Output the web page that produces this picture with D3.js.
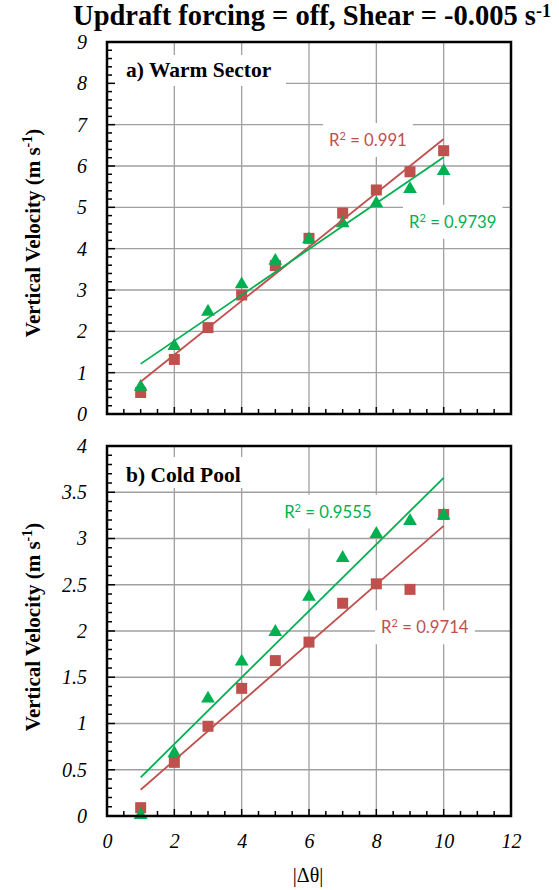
<!DOCTYPE html>
<html>
<head>
<meta charset="utf-8">
<script src="https://cdn.jsdelivr.net/npm/d3@7"></script>
<style>
  html, body { margin: 0; padding: 0; background: #fff; }
  svg { display: block; }
</style>
</head>
<body>
<svg id="chart" width="559" height="890"></svg>
<script>
// |Δθ| values shared by both panels
const deltaTheta = [1, 2, 3, 4, 5, 6, 7, 8, 9, 10];

// a) Warm Sector — vertical velocity (m s-1)
const warmSquare   = [0.52, 1.32, 2.09, 2.88, 3.59, 4.25, 4.86, 5.42, 5.86, 6.37];
const warmTriangle = [0.68, 1.67, 2.50, 3.16, 3.73, 4.25, 4.64, 5.12, 5.47, 5.90];

// b) Cold Pool — vertical velocity (m s-1)
const coldSquare   = [0.09, 0.58, 0.97, 1.38, 1.68, 1.88, 2.30, 2.51, 2.45, 3.26];
const coldTriangle = [0.02, 0.69, 1.28, 1.68, 2.00, 2.38, 2.80, 3.06, 3.20, 3.26];

// Axis tick values
const xTickValues    = [0, 2, 4, 6, 8, 10, 12];
const warmYTicks     = [0, 1, 2, 3, 4, 5, 6, 7, 8, 9];
const coldYTicks     = [0, 0.5, 1, 1.5, 2, 2.5, 3, 3.5, 4];

// Coefficient of determination labels for the linear trendlines
const warmR2 = { square: "0.991", triangle: "0.9739" };
const coldR2 = { square: "0.9714", triangle: "0.9555" };

const RED = "#C0504D";
const GREEN = "#00B050";
const GRID = "#a0a0a0";
const SERIF = "Liberation Serif, DejaVu Serif, serif";

const svg = d3.select("#chart");

const left = 107, right = 511;
const x = d3.scaleLinear().domain([0, 12]).range([left, right]);

// Least-squares line through (xs, ys)
function linearFit(xs, ys) {
  const mx = d3.mean(xs), my = d3.mean(ys);
  let sxy = 0, sxx = 0;
  xs.forEach((v, i) => { sxy += (v - mx) * (ys[i] - my); sxx += (v - mx) * (v - mx); });
  const slope = sxy / sxx;
  return { slope, intercept: my - slope * mx };
}

// Title
const title = svg.append("text")
  .attr("x", 312).attr("y", 25)
  .attr("text-anchor", "middle")
  .style("font-family", SERIF)
  .attr("font-weight", "bold")
  .attr("font-size", 28.5)
  .attr("fill", "#000");
title.append("tspan").text("Updraft forcing = off, Shear = -0.005 s");
title.append("tspan").attr("dy", -8).attr("font-size", 18).text("-1");

function drawPanel(opts) {
  const { top, bottom, yMax, yTicks, minorStep, squares, triangles,
          label, labelBox, r2, r2Pos, showXLabels, titleY } = opts;
  const y = d3.scaleLinear().domain([0, yMax]).range([bottom, top]);
  const g = svg.append("g");

  // Grid lines
  g.append("g").selectAll("line.h")
    .data(yTicks.filter(v => v > 0 && v < yMax))
    .join("line")
    .attr("x1", left).attr("x2", right)
    .attr("y1", d => y(d)).attr("y2", d => y(d))
    .attr("stroke", GRID).attr("stroke-width", 1.3);
  g.append("g").selectAll("line.v")
    .data(xTickValues.filter(v => v > 0 && v < 12))
    .join("line")
    .attr("x1", d => x(d)).attr("x2", d => x(d))
    .attr("y1", top).attr("y2", bottom)
    .attr("stroke", GRID).attr("stroke-width", 1.3);

  // Panel label on a white box
  g.append("rect")
    .attr("x", labelBox[0]).attr("y", labelBox[1])
    .attr("width", labelBox[2]).attr("height", labelBox[3])
    .attr("fill", "#fff");
  g.append("text")
    .attr("x", 126).attr("y", label.y)
    .style("font-family", SERIF)
    .attr("font-weight", "bold").attr("font-size", 21.5)
    .text(label.text);

  // Y axis: labels outside, ticks inside
  const yAxis = g.append("g").attr("transform", `translate(${left},0)`)
    .call(d3.axisLeft(y).tickValues(yTicks).tickSize(0).tickPadding(20)
      .tickFormat(d3.format("~g")));
  yAxis.select(".domain").remove();
  yAxis.selectAll("text")
    .style("font-family", SERIF)
    .attr("font-style", "italic").attr("font-size", 20).attr("fill", "#000");

  const minorY = d3.range(0, yMax + 1e-9, minorStep);
  g.append("g").selectAll("line")
    .data(minorY)
    .join("line")
    .attr("x1", left).attr("x2", d => left + (yTicks.some(t => Math.abs(t - d) < 1e-6) ? 8 : 5))
    .attr("y1", d => y(d)).attr("y2", d => y(d))
    .attr("stroke", "#000").attr("stroke-width", 1.5);

  // X axis ticks inside
  const minorX = d3.range(0, 12 + 1e-9, 0.5);
  g.append("g").selectAll("line")
    .data(minorX)
    .join("line")
    .attr("x1", d => x(d)).attr("x2", d => x(d))
    .attr("y1", bottom).attr("y2", d => bottom - (d % 2 === 0 ? 7 : 5))
    .attr("stroke", "#000").attr("stroke-width", 1.5);

  if (showXLabels) {
    const xAxis = g.append("g").attr("transform", `translate(0,${bottom})`)
      .call(d3.axisBottom(x).tickValues(xTickValues).tickSize(0).tickPadding(18));
    xAxis.select(".domain").remove();
    xAxis.selectAll("text")
      .style("font-family", SERIF)
      .attr("font-style", "italic").attr("font-size", 20).attr("fill", "#000");
  }

  // R² labels on white boxes
  const r2Font = "Lato, 'Open Sans', sans-serif";
  [["square", RED], ["triangle", GREEN]].forEach(([key, color]) => {
    const p = r2Pos[key];
    const cx = x(p[0]), cy = y(p[1]);
    const t = g.append("text")
      .attr("x", cx).attr("y", cy).attr("dy", "0.35em")
      .attr("text-anchor", "middle")
      .attr("font-family", r2Font).attr("font-size", 16.7)
      .attr("fill", color);
    t.append("tspan").text("R");
    t.append("tspan").attr("font-size", 11).attr("dy", -6).text("2");
    t.append("tspan").attr("dy", 6).text(" = " + r2[key]);
    const bb = t.node().getBBox();
    g.insert("rect", () => t.node())
      .attr("x", bb.x - 6).attr("y", cy - 17)
      .attr("width", bb.width + 12).attr("height", 34)
      .attr("fill", "#fff");
  });

  // Markers
  const pts = (vals) => deltaTheta.map((d, i) => [d, vals[i]]);
  g.append("g").selectAll("rect")
    .data(pts(squares))
    .join("rect")
    .attr("x", d => x(d[0]) - 5.5).attr("y", d => y(d[1]) - 5.5)
    .attr("width", 11).attr("height", 11)
    .attr("fill", RED);
  const tri = d3.symbol().type(d3.symbolTriangle).size(82);
  g.append("g").selectAll("path")
    .data(pts(triangles))
    .join("path")
    .attr("d", tri)
    .attr("transform", d => `translate(${x(d[0])},${y(d[1]) + 1})`)
    .attr("fill", GREEN);

  // Linear trendlines over the |Δθ| range
  [[squares, RED], [triangles, GREEN]].forEach(([vals, color]) => {
    const f = linearFit(deltaTheta, vals);
    const x0 = d3.min(deltaTheta), x1 = d3.max(deltaTheta);
    g.append("line")
      .attr("x1", x(x0)).attr("y1", y(f.intercept + f.slope * x0))
      .attr("x2", x(x1)).attr("y2", y(f.intercept + f.slope * x1))
      .attr("stroke", color).attr("stroke-width", 1.8);
  });

  // Frame
  g.append("rect")
    .attr("x", left).attr("y", top)
    .attr("width", right - left).attr("height", bottom - top)
    .attr("fill", "none").attr("stroke", "#000").attr("stroke-width", 2.5);

  // Y axis title
  const yt = svg.append("text")
    .attr("transform", `translate(40,${titleY}) rotate(-90)`)
    .attr("text-anchor", "middle")
    .style("font-family", SERIF)
    .attr("font-weight", "bold").attr("font-size", 21);
  yt.append("tspan").text("Vertical Velocity (m s");
  yt.append("tspan").attr("font-size", 14).attr("dy", -8).text("-1");
  yt.append("tspan").attr("dy", 8).text(")");
}

drawPanel({
  top: 42, bottom: 414, yMax: 9, yTicks: warmYTicks, minorStep: 0.2,
  squares: warmSquare, triangles: warmTriangle,
  label: { text: "a) Warm Sector", y: 77 },
  labelBox: [108, 55, 178, 31],
  r2: warmR2,
  r2Pos: { square: [7.75, 6.63], triangle: [10.27, 4.65] },
  showXLabels: false,
  titleY: 233
});

drawPanel({
  top: 446, bottom: 816, yMax: 4, yTicks: coldYTicks, minorStep: 0.1,
  squares: coldSquare, triangles: coldTriangle,
  label: { text: "b) Cold Pool", y: 482 },
  labelBox: [108, 457, 147, 31],
  r2: coldR2,
  r2Pos: { square: [9.44, 2.04], triangle: [6.56, 3.29] },
  showXLabels: true,
  titleY: 627
});

// X axis title
svg.append("text")
  .attr("x", 308).attr("y", 882)
  .attr("text-anchor", "middle")
  .style("font-family", SERIF)
  .attr("font-size", 20)
  .text("|Δθ|");
</script>
</body>
</html>
